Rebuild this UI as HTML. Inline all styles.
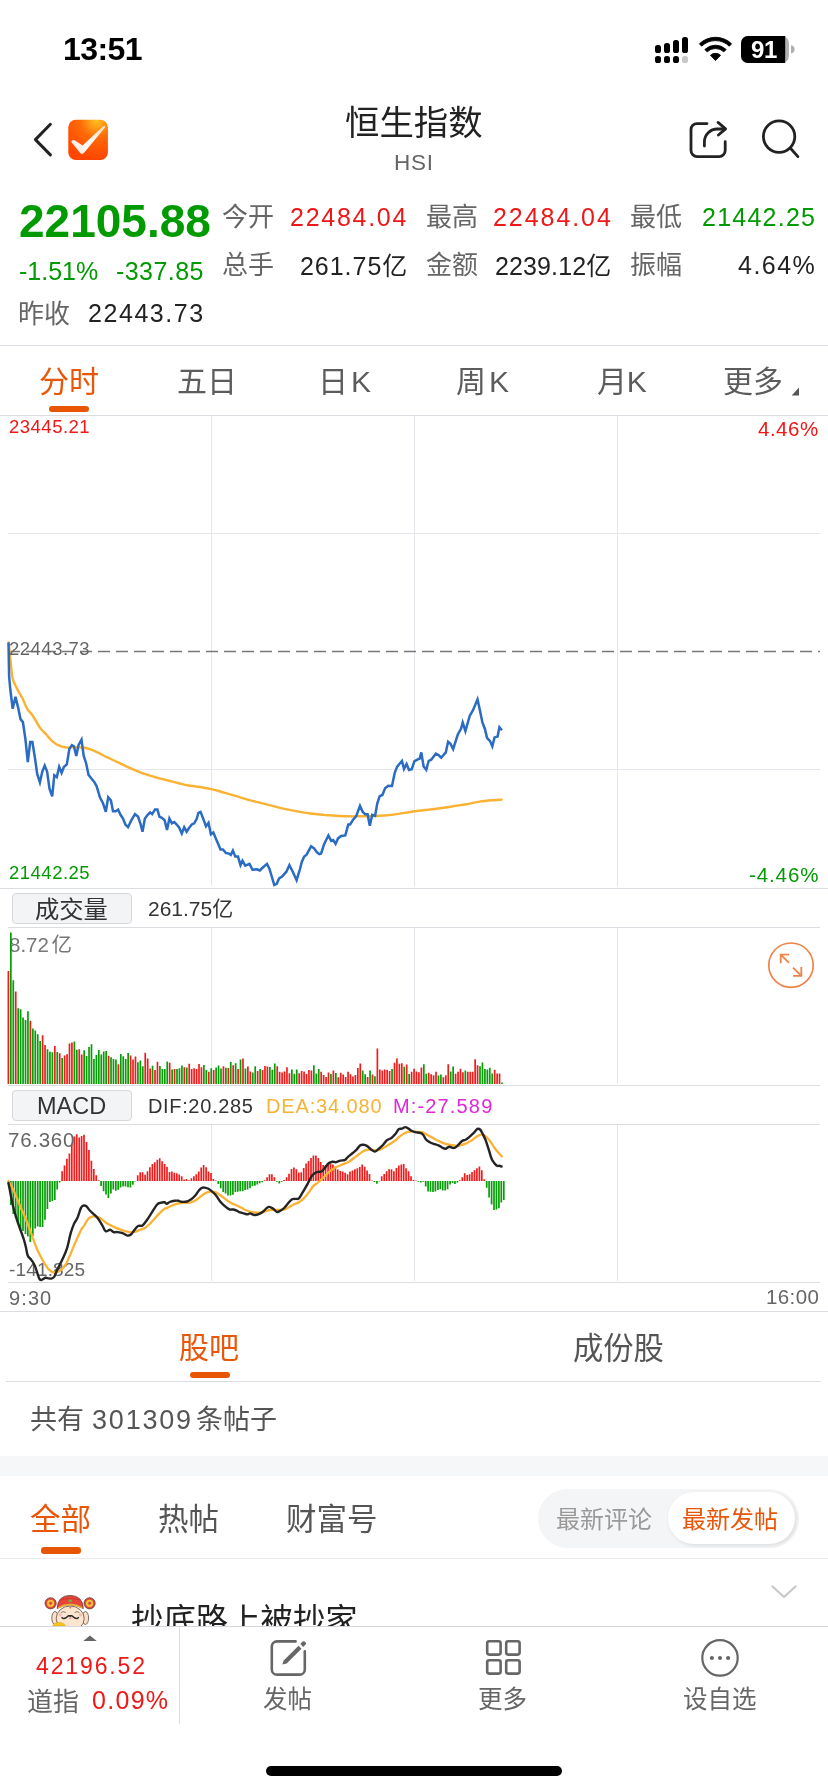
<!DOCTYPE html>
<html lang="zh-CN"><head><meta charset="utf-8"><title>恒生指数 HSI</title>
<style>
*{margin:0;padding:0;box-sizing:border-box}
html,body{width:828px;height:1792px;background:#fff;overflow:hidden}
body{font-family:"Liberation Sans","Noto Sans CJK SC",sans-serif;color:#222;position:relative}
.a{position:absolute;white-space:nowrap;line-height:1;will-change:transform}
.cj{font-family:"Noto Sans CJK SC","Liberation Sans",sans-serif}
.g{color:#019a01}.r{color:#ee1818}.k{color:#222}.gy{color:#666}
.hl{position:absolute;height:1px;background:#dcdde2}
</style></head><body>
<!-- status bar -->
<div class="a" id="time" style="left:62.6px;top:33.4px;font-size:32px;font-weight:bold;color:#000;letter-spacing:-0.6px">13:51</div>
<svg class="a" style="left:650px;top:30px" width="150" height="40" viewBox="650 30 150 40">
  <g fill="#000">
    <rect x="655" y="45" width="6" height="8" rx="2.6"/>
    <rect x="664" y="43" width="6" height="10" rx="2.6"/>
    <rect x="673" y="40" width="6" height="13" rx="2.6"/>
    <rect x="682" y="37" width="6" height="16" rx="2.6"/>
    <rect x="655" y="56" width="6" height="7" rx="2.6"/>
    <rect x="664" y="56" width="6" height="7" rx="2.6"/>
    <rect x="673" y="56" width="6" height="7" rx="2.6"/>
  </g>
  <rect x="682" y="56" width="6" height="7" rx="2.6" fill="#c8c8c8"/>
  <g fill="#000" stroke="#000" stroke-width="0.9" stroke-linejoin="round"><path d="M699.38 43.81 A23.2 23.2 0 0 1 731.62 43.81 L729.32 46.19 A19.9 19.9 0 0 0 701.68 46.19 Z"/><path d="M704.87 49.49 A15.3 15.3 0 0 1 726.13 49.49 L723.84 51.87 A12.0 12.0 0 0 0 707.16 51.87 Z"/><path d="M715.5 60.5 L710.50 55.32 A7.2 7.2 0 0 1 720.50 55.32 Z"/></g>
  <rect x="741" y="36" width="48" height="27" rx="7" fill="#b3b3b3"/>
  <path d="M748 36 H785.2 V63 H748 A7 7 0 0 1 741 56 V43 A7 7 0 0 1 748 36Z" fill="#000"/>
  <path d="M791 45.2 a4.2 4.2 0 0 1 0 8.3z" fill="#b0b0b0"/>
</svg>
<div class="a" id="batt" style="left:750.5px;top:37.6px;font-size:24px;font-weight:bold;color:#fff;letter-spacing:-0.3px">91</div>

<!-- nav header -->
<svg class="a" style="left:20px;top:110px" width="100" height="60" viewBox="20 110 100 60">
  <path d="M50.4 124.3 L35.4 139.6 L50.4 154.9" fill="none" stroke="#222" stroke-width="3" stroke-linecap="round" stroke-linejoin="round"/>
  <defs>
    <radialGradient id="lg" cx="0.72" cy="0.02" r="0.95">
      <stop offset="0" stop-color="#ffc21f"/>
      <stop offset="0.45" stop-color="#ff6a08"/>
      <stop offset="1" stop-color="#ff4600"/>
    </radialGradient>
    <linearGradient id="ck" x1="0" y1="1" x2="1" y2="0">
      <stop offset="0" stop-color="#f6e0d4"/>
      <stop offset="0.45" stop-color="#ffffff"/>
      <stop offset="1" stop-color="#ffd9b8"/>
    </linearGradient>
  </defs>
  <rect x="68.3" y="119.8" width="39.6" height="40.2" rx="7.5" fill="url(#lg)"/>
  <path d="M71.3 142 Q71.6 139.4 74.6 140.3 L82.6 145.5 L103.2 126.3 Q105.6 124.9 105 127.4 L84.3 152.6 Q82.2 155.2 80.2 153 Z" fill="url(#ck)"/>
</svg>
<div class="a cj" id="title" style="left:345px;top:103px;font-size:34.4px;color:#222">恒生指数</div>
<div class="a" id="hsi" style="left:394px;top:151.8px;font-size:22.5px;letter-spacing:0.75px;color:#666">HSI</div>
<svg class="a" style="left:680px;top:110px" width="130" height="60" viewBox="680 110 130 60">
  <g fill="none" stroke="#222" stroke-width="2.8" stroke-linecap="round" stroke-linejoin="round">
    <path d="M707 123.6 H697 A6 6 0 0 0 691 129.6 V150.6 A6 6 0 0 0 697 156.6 H719.2 A6 6 0 0 0 725.2 150.6 V141.6"/>
    <path d="M704.4 146 V142 A13 13 0 0 1 717.4 129 H724.8"/>
    <path d="M718 122.4 L725.6 128.9 L718.4 135"/>
    <circle cx="779.1" cy="136.6" r="15.7"/>
    <path d="M790.5 148.2 L797.9 156.6"/>
  </g>
</svg>

<!-- quote block -->
<div class="a g" id="price" style="left:19px;top:197.8px;font-size:46px;font-weight:bold;letter-spacing:0px">22105.88</div>
<div class="a g" id="pct" style="left:19px;top:259.2px;font-size:25px;letter-spacing:0px">-1.51%</div>
<div class="a g" id="chg" style="left:115.5px;top:259.2px;font-size:25px;letter-spacing:0.43px">-337.85</div>
<div class="a cj gy" id="l1" style="left:222px;top:202.4px;font-size:26px">今开</div>
<div class="a r" id="v1" style="right:420px;top:204.7px;font-size:25px;letter-spacing:1.73px">22484.04</div>
<div class="a cj gy" id="l2" style="left:426px;top:202.4px;font-size:26px">最高</div>
<div class="a r" id="v2" style="right:215.1px;top:204.7px;font-size:25px;letter-spacing:1.94px">22484.04</div>
<div class="a cj gy" id="l3" style="left:630px;top:202.4px;font-size:26px">最低</div>
<div class="a g" id="v3" style="right:11.7px;top:204.7px;font-size:25px;letter-spacing:1.24px">21442.25</div>
<div class="a cj gy" id="l4" style="left:222px;top:250.3px;font-size:26px">总手</div>
<div class="a k" id="v4" style="right:420px;top:252.2px;font-size:25px;letter-spacing:0.97px">261.75<span class="cj">亿</span></div>
<div class="a cj gy" id="l5" style="left:426px;top:250.3px;font-size:26px">金额</div>
<div class="a k" id="v5" style="right:217px;top:252.2px;font-size:25px;letter-spacing:0.12px">2239.12<span class="cj">亿</span></div>
<div class="a cj gy" id="l6" style="left:630px;top:250.3px;font-size:26px">振幅</div>
<div class="a k" id="v6" style="right:12.1px;top:252.5px;font-size:25px;letter-spacing:1.48px">4.64%</div>
<div class="a cj gy" id="l7" style="left:18px;top:298.7px;font-size:26px">昨收</div>
<div class="a k" id="v7" style="left:87.7px;top:300.7px;font-size:25px;letter-spacing:1.56px">22443.73</div>
<div class="hl" style="left:0;top:345px;width:828px"></div>

<!-- period tabs -->
<div class="a cj" id="tab1" style="left:39px;top:363.7px;font-size:30px;color:#e8560a">分时</div>
<div style="position:absolute;left:49px;top:406px;width:40px;height:6px;border-radius:3px;background:#e85505"></div>
<div class="a cj gy" id="tab2" style="left:177px;top:363.7px;font-size:30px;color:#5c5c5c">五日</div>
<div class="a cj gy" id="tab3" style="left:318px;top:363.7px;font-size:30px;color:#5c5c5c">日<span style="font-family:'Liberation Sans';margin-left:3px">K</span></div>
<div class="a cj gy" id="tab4" style="left:456px;top:363.7px;font-size:30px;color:#5c5c5c">周<span style="font-family:'Liberation Sans';margin-left:3px">K</span></div>
<div class="a cj gy" id="tab5" style="left:597px;top:363.7px;font-size:30px;color:#5c5c5c">月<span style="font-family:'Liberation Sans';margin-left:-0.3px">K</span></div>
<div class="a cj gy" id="tab6" style="left:723px;top:363.7px;font-size:30px;color:#5c5c5c">更多</div>
<svg class="a" style="left:790px;top:386px" width="10" height="10" viewBox="790 386 10 10"><path d="M799 387.5 V395.6 H791.7 Z" fill="#555"/></svg>
<div class="hl" style="left:0;top:415px;width:828px"></div>

<!-- charts -->
<svg class="a" style="left:0;top:415px" width="828" height="474" viewBox="0 415 828 474"><line x1="211.5" y1="416" x2="211.5" y2="886" stroke="#e4e6ec" stroke-width="1"/><line x1="414.5" y1="416" x2="414.5" y2="886" stroke="#e4e6ec" stroke-width="1"/><line x1="617.5" y1="416" x2="617.5" y2="886" stroke="#e4e6ec" stroke-width="1"/><line x1="8" y1="533.5" x2="820" y2="533.5" stroke="#e4e6ec" stroke-width="1"/><line x1="8" y1="769.5" x2="820" y2="769.5" stroke="#e4e6ec" stroke-width="1"/><line x1="8" y1="651.5" x2="820" y2="651.5" stroke="#777" stroke-width="1.3" stroke-dasharray="12 6"/><line x1="0" y1="888.5" x2="828" y2="888.5" stroke="#dcdde2" stroke-width="1"/><path d="M8.7 642.4 C9.1 646 10.2 658.2 10.9 664.2 C11.6 670.2 11.5 674.2 12.7 678.6 C13.9 683 16.4 687.3 18.1 690.7 C19.8 694.1 21.4 696.2 22.9 699.2 C24.4 702.2 25.6 706.1 27.2 708.8 C28.8 711.5 30.5 712.4 32.6 715.5 C34.7 718.6 37.6 724.4 39.9 727.6 C42.2 730.8 44.5 732.6 46.5 734.8 C48.5 737 50 739.1 51.9 740.8 C53.8 742.5 55.6 744 58 745.1 C60.4 746.2 63.6 747.1 66.4 747.5 C69.2 747.9 71.9 747.2 74.9 747.2 C77.9 747.2 81.7 747.2 84.5 747.7 C87.3 748.2 89.2 748.9 91.8 749.9 C94.4 750.9 97.4 752.4 100 753.6 C102.6 754.9 104.2 756 107.2 757.4 C110.2 758.8 114.5 760.6 118.1 762.3 C121.7 764 125 765.9 129 767.7 C133 769.5 138.1 771.6 142.3 773.1 C146.5 774.6 149.3 775.4 154.3 776.8 C159.3 778.2 167.1 780.2 172.5 781.6 C177.9 783 182.4 784.3 187 785.2 C191.6 786.1 195.8 786.3 200 787 C204.2 787.7 208.1 788.4 212.1 789.3 C216.1 790.2 220.2 791.5 224.2 792.6 C228.2 793.8 232.2 795 236.2 796.2 C240.2 797.4 244.3 798.8 248.3 799.9 C252.3 801 256.4 801.9 260.4 802.9 C264.4 803.9 268.5 804.9 272.5 805.9 C276.5 806.9 279.9 807.9 284.5 808.9 C289.1 809.9 295.4 811.1 300 811.9 C304.6 812.7 308.1 813.2 312.1 813.7 C316.1 814.2 320.2 814.5 324.2 814.9 C328.2 815.2 332.2 815.6 336.2 815.8 C340.2 816 344.3 816.2 348.3 816.3 C352.3 816.4 356.4 816.3 360.4 816.3 C364.4 816.3 368.5 816.2 372.5 816.1 C376.5 816 379.9 815.9 384.5 815.5 C389.1 815.1 395.2 814.3 400 813.6 C404.8 812.9 408.9 812.1 413.3 811.5 C417.7 810.9 422.2 810.4 426.6 809.9 C431 809.4 435.5 808.8 439.9 808.2 C444.3 807.6 448.7 806.9 453.1 806.2 C457.5 805.5 462 805 466.4 804.2 C470.8 803.4 475.3 802.3 479.7 801.6 C484.1 800.9 489.4 800.5 493 800.2 C496.6 799.9 500.2 799.7 501.6 799.6" fill="none" stroke="#fbb233" stroke-width="2.4" stroke-linecap="round"/><path d="M8.5 642.4 L9.1 676.2 L10.3 689.5 L12.7 708.8 L15.5 696.8 L18.1 707.6 L20.5 719.1 L22.9 722.1 L25.4 739 L27.8 762 L30.2 742 L32.4 742 L35 758.4 L37.2 774 L39.9 782.5 L42.3 771.6 L44.7 765.6 L47.1 771.6 L49.5 788.6 L52.2 796.4 L54.3 775.3 L56.8 777.1 L59.2 766.8 L61.6 772.8 L64 766.8 L66.8 764.4 L69.4 748.7 L71.9 745.1 L73.9 746.3 L76.3 755.9 L78.5 745.1 L81.5 739.6 L83.7 755.9 L86.1 763.2 L88.5 774.7 L91.2 778.3 L94.2 781.9 L96.6 786.1 L100 797.5 L103 803.3 L105.8 811.8 L108.2 797.3 L110.9 800.3 L113 811.2 L115.7 811.2 L118.1 809.6 L120.5 814.8 L122.9 818.4 L125.4 824.5 L128 827.2 L131.4 820.2 L135 814.2 L138 816.6 L140.5 823.9 L142.5 831.7 L144.9 818.4 L147.7 814.8 L150.1 812.4 L152.2 814.2 L155 809.4 L157.4 809.4 L159.4 816.6 L161.8 817.8 L164.6 820.2 L167 829.9 L169.4 818.4 L171.9 823.3 L174.3 822.1 L176.7 824.5 L179.1 827.5 L181.8 833.5 L184.2 827.2 L186.6 831.7 L189.4 827.5 L191.8 824.5 L194.2 823.3 L196.6 819 L198.4 813 L200.6 811.9 L203.4 819.2 L206 826.4 L208.5 822.8 L210.9 834.3 L213.3 832.5 L216.9 840.9 L220.5 849.4 L222.9 849.4 L226 853 L229 853.6 L230.8 854.8 L232.9 850.6 L235.3 856.6 L238 856.6 L240.5 865.1 L242.5 860.8 L245.3 865.7 L249.5 863.9 L252.5 869.7 L256.8 869.3 L259.8 870.5 L262.8 867.5 L267 863.9 L269.4 868.7 L274.3 885 L276.7 883.8 L279.1 878.4 L282.1 876.5 L286.4 871.7 L289.4 865.1 L293 872.3 L296.6 880.2 L300 869 L301.8 862 L304.2 856.5 L306.6 854.7 L311.1 846.3 L313.9 848.1 L316.9 852.3 L319.3 854.1 L321.1 853.5 L324.2 843.9 L328.4 835.4 L331.2 840.8 L333.2 840 L335.6 843.9 L338 838.4 L341.1 836 L345.3 835.4 L348.3 824.5 L350.1 824.5 L353.1 819.7 L356.2 816.1 L360 805.8 L362.8 811.9 L365.2 814.3 L367.6 814.3 L369.8 825.7 L372.2 814.9 L375.1 815.8 L377.3 803.4 L379.7 796.2 L382.4 795 L385.1 788.3 L388.2 785.7 L392 785.9 L394.8 772.6 L397.2 766.6 L400 763.3 L402 761 L404 769 L406.6 764 L409 770 L411.7 769.3 L414.3 761.3 L417.3 759.7 L419.7 758.6 L421.3 752.4 L423.6 766.4 L426.3 769.7 L428.6 761 L431.2 759.7 L435.9 753.7 L438.5 755.1 L441.2 757.7 L445.8 752.4 L448.1 741.8 L450.5 743.8 L453.1 749.1 L457.8 734.5 L461.1 728.5 L462.7 722.5 L465.4 731.1 L469.7 715.9 L473.1 709.9 L477.5 699.3 L479.7 709.2 L482.4 722.5 L485 729.2 L487 737.8 L490.1 741.1 L492.3 746.4 L494.6 737.4 L497.6 736.5 L499.4 727.2 L502 730.2" fill="none" stroke="#2a6bc4" stroke-width="2.5" stroke-linejoin="miter" stroke-miterlimit="4"/></svg>
<div class="a" id="volmax" style="left:8.6px;top:933.1px;font-size:20.5px;color:#777">8.72<span class="cj" style="margin-left:2.5px">亿</span></div>
<div class="a" id="mbot" style="left:8.5px;top:1259.6px;font-size:19px;letter-spacing:0.15px;color:#666">-141.825</div>
<svg class="a" style="left:0;top:889px" width="828" height="200" viewBox="0 889 828 200"><line x1="211.5" y1="928" x2="211.5" y2="1084" stroke="#e4e6ec" stroke-width="1"/><line x1="414.5" y1="928" x2="414.5" y2="1084" stroke="#e4e6ec" stroke-width="1"/><line x1="617.5" y1="928" x2="617.5" y2="1084" stroke="#e4e6ec" stroke-width="1"/><line x1="8" y1="927.5" x2="820" y2="927.5" stroke="#dcdde2" stroke-width="1"/><line x1="8" y1="1085.5" x2="820" y2="1085.5" stroke="#dcdde2" stroke-width="1"/><path d="M7.55 971.1h1.7V1084h-1.7zM14.88 991.4h1.7V1084h-1.7zM29.54 1020.8h1.7V1084h-1.7zM41.76 1035.3h1.7V1084h-1.7zM44.20 1045.0h1.7V1084h-1.7zM53.98 1045.9h1.7V1084h-1.7zM58.87 1053.2h1.7V1084h-1.7zM63.75 1055.6h1.7V1084h-1.7zM66.20 1054.2h1.7V1084h-1.7zM68.64 1043.5h1.7V1084h-1.7zM71.08 1042.6h1.7V1084h-1.7zM78.41 1049.3h1.7V1084h-1.7zM80.86 1054.6h1.7V1084h-1.7zM107.74 1055.8h1.7V1084h-1.7zM117.51 1064.3h1.7V1084h-1.7zM129.73 1055.6h1.7V1084h-1.7zM132.17 1059.4h1.7V1084h-1.7zM134.62 1056.5h1.7V1084h-1.7zM144.39 1052.7h1.7V1084h-1.7zM146.84 1058.5h1.7V1084h-1.7zM149.28 1068.6h1.7V1084h-1.7zM154.17 1070.0h1.7V1084h-1.7zM156.61 1061.8h1.7V1084h-1.7zM168.83 1062.7h1.7V1084h-1.7zM173.71 1068.9h1.7V1084h-1.7zM183.49 1067.2h1.7V1084h-1.7zM188.38 1063.8h1.7V1084h-1.7zM190.82 1069.1h1.7V1084h-1.7zM193.26 1068.2h1.7V1084h-1.7zM195.71 1069.1h1.7V1084h-1.7zM198.15 1064.0h1.7V1084h-1.7zM200.59 1067.2h1.7V1084h-1.7zM207.93 1071.7h1.7V1084h-1.7zM212.81 1070.1h1.7V1084h-1.7zM222.59 1066.2h1.7V1084h-1.7zM227.47 1068.0h1.7V1084h-1.7zM232.36 1065.3h1.7V1084h-1.7zM237.25 1069.1h1.7V1084h-1.7zM242.14 1058.5h1.7V1084h-1.7zM247.02 1066.5h1.7V1084h-1.7zM249.47 1071.4h1.7V1084h-1.7zM256.80 1071.1h1.7V1084h-1.7zM261.68 1070.1h1.7V1084h-1.7zM264.13 1065.9h1.7V1084h-1.7zM266.57 1066.5h1.7V1084h-1.7zM276.35 1066.2h1.7V1084h-1.7zM278.79 1071.7h1.7V1084h-1.7zM281.23 1072.5h1.7V1084h-1.7zM283.68 1071.4h1.7V1084h-1.7zM286.12 1067.2h1.7V1084h-1.7zM288.56 1073.3h1.7V1084h-1.7zM298.34 1073.3h1.7V1084h-1.7zM300.78 1071.1h1.7V1084h-1.7zM303.23 1071.5h1.7V1084h-1.7zM305.67 1074.0h1.7V1084h-1.7zM308.11 1070.1h1.7V1084h-1.7zM310.56 1070.4h1.7V1084h-1.7zM320.33 1071.7h1.7V1084h-1.7zM322.77 1074.9h1.7V1084h-1.7zM325.22 1076.9h1.7V1084h-1.7zM327.66 1072.5h1.7V1084h-1.7zM332.55 1070.4h1.7V1084h-1.7zM337.44 1077.3h1.7V1084h-1.7zM339.88 1072.7h1.7V1084h-1.7zM342.32 1074.6h1.7V1084h-1.7zM344.77 1077.1h1.7V1084h-1.7zM347.21 1071.7h1.7V1084h-1.7zM349.65 1074.3h1.7V1084h-1.7zM352.10 1076.4h1.7V1084h-1.7zM354.54 1074.9h1.7V1084h-1.7zM356.98 1067.9h1.7V1084h-1.7zM359.43 1063.6h1.7V1084h-1.7zM366.76 1076.9h1.7V1084h-1.7zM371.65 1074.6h1.7V1084h-1.7zM376.53 1048.6h1.7V1084h-1.7zM378.98 1069.6h1.7V1084h-1.7zM381.42 1070.4h1.7V1084h-1.7zM383.86 1069.4h1.7V1084h-1.7zM386.31 1069.8h1.7V1084h-1.7zM388.75 1071.1h1.7V1084h-1.7zM393.64 1062.7h1.7V1084h-1.7zM396.08 1058.5h1.7V1084h-1.7zM398.53 1063.8h1.7V1084h-1.7zM400.97 1063.3h1.7V1084h-1.7zM405.86 1064.6h1.7V1084h-1.7zM410.74 1071.7h1.7V1084h-1.7zM413.19 1068.8h1.7V1084h-1.7zM415.63 1071.4h1.7V1084h-1.7zM418.07 1072.3h1.7V1084h-1.7zM420.52 1067.5h1.7V1084h-1.7zM427.85 1072.7h1.7V1084h-1.7zM430.29 1074.3h1.7V1084h-1.7zM432.74 1075.2h1.7V1084h-1.7zM435.18 1071.7h1.7V1084h-1.7zM442.51 1077.3h1.7V1084h-1.7zM444.95 1075.2h1.7V1084h-1.7zM447.40 1064.3h1.7V1084h-1.7zM454.73 1073.7h1.7V1084h-1.7zM457.17 1071.7h1.7V1084h-1.7zM459.62 1068.8h1.7V1084h-1.7zM462.06 1072.3h1.7V1084h-1.7zM466.95 1071.7h1.7V1084h-1.7zM469.39 1071.7h1.7V1084h-1.7zM471.83 1071.8h1.7V1084h-1.7zM474.28 1059.3h1.7V1084h-1.7zM476.72 1065.3h1.7V1084h-1.7zM493.83 1069.7h1.7V1084h-1.7zM496.27 1073.4h1.7V1084h-1.7zM498.71 1073.4h1.7V1084h-1.7z" fill="#f01c1c"/><path d="M9.99 932.4h1.7V1084h-1.7zM12.44 980.2h1.7V1084h-1.7zM17.32 1008.3h1.7V1084h-1.7zM19.77 1009.2h1.7V1084h-1.7zM22.21 1017.4h1.7V1084h-1.7zM24.66 1019.9h1.7V1084h-1.7zM27.10 1011.2h1.7V1084h-1.7zM31.99 1028.6h1.7V1084h-1.7zM34.43 1030.5h1.7V1084h-1.7zM36.87 1034.3h1.7V1084h-1.7zM39.32 1041.1h1.7V1084h-1.7zM46.65 1049.3h1.7V1084h-1.7zM49.09 1051.7h1.7V1084h-1.7zM51.53 1052.2h1.7V1084h-1.7zM56.42 1051.9h1.7V1084h-1.7zM61.31 1058.0h1.7V1084h-1.7zM73.53 1041.6h1.7V1084h-1.7zM75.97 1049.8h1.7V1084h-1.7zM83.30 1050.3h1.7V1084h-1.7zM85.75 1056.1h1.7V1084h-1.7zM88.19 1046.9h1.7V1084h-1.7zM90.63 1044.3h1.7V1084h-1.7zM93.08 1058.9h1.7V1084h-1.7zM95.52 1055.1h1.7V1084h-1.7zM97.96 1050.0h1.7V1084h-1.7zM100.41 1054.6h1.7V1084h-1.7zM102.85 1051.4h1.7V1084h-1.7zM105.29 1051.0h1.7V1084h-1.7zM110.18 1057.2h1.7V1084h-1.7zM112.62 1058.9h1.7V1084h-1.7zM115.07 1059.4h1.7V1084h-1.7zM119.96 1054.1h1.7V1084h-1.7zM122.40 1056.2h1.7V1084h-1.7zM124.84 1058.9h1.7V1084h-1.7zM127.29 1052.9h1.7V1084h-1.7zM137.06 1062.3h1.7V1084h-1.7zM139.50 1060.4h1.7V1084h-1.7zM141.95 1066.2h1.7V1084h-1.7zM151.72 1065.7h1.7V1084h-1.7zM159.05 1065.9h1.7V1084h-1.7zM161.50 1069.1h1.7V1084h-1.7zM163.94 1069.1h1.7V1084h-1.7zM166.38 1061.4h1.7V1084h-1.7zM171.27 1069.6h1.7V1084h-1.7zM176.16 1068.9h1.7V1084h-1.7zM178.60 1068.2h1.7V1084h-1.7zM181.05 1065.6h1.7V1084h-1.7zM185.93 1067.5h1.7V1084h-1.7zM203.04 1065.0h1.7V1084h-1.7zM205.48 1070.1h1.7V1084h-1.7zM210.37 1068.2h1.7V1084h-1.7zM215.26 1067.5h1.7V1084h-1.7zM217.70 1065.6h1.7V1084h-1.7zM220.14 1068.5h1.7V1084h-1.7zM225.03 1067.7h1.7V1084h-1.7zM229.92 1061.9h1.7V1084h-1.7zM234.80 1063.3h1.7V1084h-1.7zM239.69 1059.5h1.7V1084h-1.7zM244.58 1068.5h1.7V1084h-1.7zM251.91 1072.5h1.7V1084h-1.7zM254.35 1066.2h1.7V1084h-1.7zM259.24 1069.1h1.7V1084h-1.7zM269.02 1066.9h1.7V1084h-1.7zM271.46 1069.8h1.7V1084h-1.7zM273.90 1063.6h1.7V1084h-1.7zM291.01 1069.4h1.7V1084h-1.7zM293.45 1073.7h1.7V1084h-1.7zM295.89 1069.4h1.7V1084h-1.7zM313.00 1065.3h1.7V1084h-1.7zM315.44 1073.5h1.7V1084h-1.7zM317.89 1069.1h1.7V1084h-1.7zM330.11 1074.0h1.7V1084h-1.7zM334.99 1073.0h1.7V1084h-1.7zM361.87 1070.6h1.7V1084h-1.7zM364.32 1074.3h1.7V1084h-1.7zM369.20 1070.4h1.7V1084h-1.7zM374.09 1076.2h1.7V1084h-1.7zM391.20 1069.1h1.7V1084h-1.7zM403.41 1066.7h1.7V1084h-1.7zM408.30 1074.0h1.7V1084h-1.7zM422.96 1064.3h1.7V1084h-1.7zM425.41 1073.7h1.7V1084h-1.7zM437.62 1075.6h1.7V1084h-1.7zM440.07 1074.4h1.7V1084h-1.7zM449.84 1071.5h1.7V1084h-1.7zM452.29 1066.5h1.7V1084h-1.7zM464.50 1070.4h1.7V1084h-1.7zM479.16 1066.2h1.7V1084h-1.7zM481.61 1062.5h1.7V1084h-1.7zM484.05 1069.1h1.7V1084h-1.7zM486.50 1069.4h1.7V1084h-1.7zM488.94 1067.7h1.7V1084h-1.7zM491.38 1073.6h1.7V1084h-1.7zM501.16 1082.4h1.7V1084h-1.7z" fill="#079d07"/><circle cx="791" cy="965.2" r="22.2" fill="none" stroke="#ef8447" stroke-width="1.7"/><g fill="none" stroke="#ef8447" stroke-width="1.8"><path d="M789 954.6 H780.7 V963.3 M780.7 954.6 L789 962.9"/><path d="M793 975.9 H801.3 V966.9 M801.3 975.9 L793 967.6"/></g></svg>
<svg class="a" style="left:0;top:1086px" width="828" height="226" viewBox="0 1086 828 226"><line x1="211.5" y1="1125" x2="211.5" y2="1281" stroke="#e4e6ec" stroke-width="1"/><line x1="414.5" y1="1125" x2="414.5" y2="1281" stroke="#e4e6ec" stroke-width="1"/><line x1="617.5" y1="1125" x2="617.5" y2="1281" stroke="#e4e6ec" stroke-width="1"/><line x1="8" y1="1124.5" x2="820" y2="1124.5" stroke="#dcdde2" stroke-width="1"/><line x1="8" y1="1282.5" x2="820" y2="1282.5" stroke="#dcdde2" stroke-width="1"/><path d="M61.25 1171.2h1.7V1181h-1.7zM63.65 1165.4h1.7V1181h-1.7zM66.05 1158.8h1.7V1181h-1.7zM68.55 1153.5h1.7V1181h-1.7zM70.95 1143.8h1.7V1181h-1.7zM73.45 1136.6h1.7V1181h-1.7zM75.85 1134.2h1.7V1181h-1.7zM78.35 1137.6h1.7V1181h-1.7zM80.75 1136.1h1.7V1181h-1.7zM83.15 1134.7h1.7V1181h-1.7zM85.65 1141.9h1.7V1181h-1.7zM88.05 1150.1h1.7V1181h-1.7zM90.55 1160.7h1.7V1181h-1.7zM92.95 1169.0h1.7V1181h-1.7zM95.35 1175.2h1.7V1181h-1.7zM97.85 1180.3h1.7V1181h-1.7zM136.85 1175.2h1.7V1181h-1.7zM139.35 1172.3h1.7V1181h-1.7zM141.75 1172.3h1.7V1181h-1.7zM144.25 1174.8h1.7V1181h-1.7zM146.65 1171.2h1.7V1181h-1.7zM149.05 1167.3h1.7V1181h-1.7zM151.55 1164.1h1.7V1181h-1.7zM153.95 1162.2h1.7V1181h-1.7zM156.45 1159.8h1.7V1181h-1.7zM158.85 1158.3h1.7V1181h-1.7zM161.25 1161.2h1.7V1181h-1.7zM163.75 1164.1h1.7V1181h-1.7zM166.15 1166.7h1.7V1181h-1.7zM168.65 1172.1h1.7V1181h-1.7zM171.05 1171.4h1.7V1181h-1.7zM173.45 1172.8h1.7V1181h-1.7zM175.95 1173.3h1.7V1181h-1.7zM178.35 1174.5h1.7V1181h-1.7zM180.85 1176.2h1.7V1181h-1.7zM183.25 1179.6h1.7V1181h-1.7zM185.65 1178.9h1.7V1181h-1.7zM188.15 1180.3h1.7V1181h-1.7zM190.55 1178.3h1.7V1181h-1.7zM193.05 1176.2h1.7V1181h-1.7zM195.45 1174.3h1.7V1181h-1.7zM197.85 1171.4h1.7V1181h-1.7zM200.35 1167.5h1.7V1181h-1.7zM202.75 1165.1h1.7V1181h-1.7zM205.25 1167.2h1.7V1181h-1.7zM207.65 1171.4h1.7V1181h-1.7zM210.15 1173.1h1.7V1181h-1.7zM212.55 1178.9h1.7V1181h-1.7zM214.95 1180.4h1.7V1181h-1.7zM263.75 1180.3h1.7V1181h-1.7zM266.25 1177.2h1.7V1181h-1.7zM268.65 1174.3h1.7V1181h-1.7zM271.05 1174.3h1.7V1181h-1.7zM273.55 1177.2h1.7V1181h-1.7zM283.25 1180.1h1.7V1181h-1.7zM285.75 1177.2h1.7V1181h-1.7zM288.15 1173.8h1.7V1181h-1.7zM290.65 1169.0h1.7V1181h-1.7zM293.05 1167.5h1.7V1181h-1.7zM295.45 1169.3h1.7V1181h-1.7zM297.95 1172.5h1.7V1181h-1.7zM300.35 1172.3h1.7V1181h-1.7zM302.85 1168.0h1.7V1181h-1.7zM305.25 1163.6h1.7V1181h-1.7zM307.65 1160.9h1.7V1181h-1.7zM310.15 1158.0h1.7V1181h-1.7zM312.55 1155.4h1.7V1181h-1.7zM315.05 1155.4h1.7V1181h-1.7zM317.45 1158.0h1.7V1181h-1.7zM319.85 1161.9h1.7V1181h-1.7zM322.35 1165.1h1.7V1181h-1.7zM324.75 1165.1h1.7V1181h-1.7zM327.25 1163.6h1.7V1181h-1.7zM329.65 1163.6h1.7V1181h-1.7zM332.05 1164.6h1.7V1181h-1.7zM334.55 1166.5h1.7V1181h-1.7zM336.95 1169.6h1.7V1181h-1.7zM339.45 1170.9h1.7V1181h-1.7zM341.85 1171.6h1.7V1181h-1.7zM344.25 1172.8h1.7V1181h-1.7zM346.75 1174.3h1.7V1181h-1.7zM349.15 1171.4h1.7V1181h-1.7zM351.65 1170.4h1.7V1181h-1.7zM354.05 1169.3h1.7V1181h-1.7zM356.45 1168.3h1.7V1181h-1.7zM358.95 1167.0h1.7V1181h-1.7zM361.35 1164.6h1.7V1181h-1.7zM363.85 1166.7h1.7V1181h-1.7zM366.25 1170.4h1.7V1181h-1.7zM368.65 1174.1h1.7V1181h-1.7zM371.15 1180.4h1.7V1181h-1.7zM380.85 1176.2h1.7V1181h-1.7zM383.35 1174.1h1.7V1181h-1.7zM385.75 1171.2h1.7V1181h-1.7zM388.25 1169.3h1.7V1181h-1.7zM390.65 1169.3h1.7V1181h-1.7zM393.05 1171.2h1.7V1181h-1.7zM395.55 1168.0h1.7V1181h-1.7zM397.95 1165.4h1.7V1181h-1.7zM400.45 1164.4h1.7V1181h-1.7zM402.85 1164.1h1.7V1181h-1.7zM405.25 1168.3h1.7V1181h-1.7zM407.75 1171.2h1.7V1181h-1.7zM410.15 1176.2h1.7V1181h-1.7zM412.65 1180.1h1.7V1181h-1.7zM415.05 1180.6h1.7V1181h-1.7zM458.95 1180.3h1.7V1181h-1.7zM461.45 1177.2h1.7V1181h-1.7zM463.85 1173.3h1.7V1181h-1.7zM466.35 1175.1h1.7V1181h-1.7zM468.75 1174.2h1.7V1181h-1.7zM471.15 1172.1h1.7V1181h-1.7zM473.65 1170.3h1.7V1181h-1.7zM476.05 1168.2h1.7V1181h-1.7zM478.55 1166.4h1.7V1181h-1.7zM480.95 1170.2h1.7V1181h-1.7zM483.35 1179.3h1.7V1181h-1.7z" fill="#f01c1c"/><path d="M9.95 1181h1.7V1205.0h-1.7zM12.45 1181h1.7V1214.0h-1.7zM14.85 1181h1.7V1218.0h-1.7zM17.25 1181h1.7V1224.0h-1.7zM19.75 1181h1.7V1230.0h-1.7zM22.15 1181h1.7V1231.0h-1.7zM24.65 1181h1.7V1234.0h-1.7zM27.05 1181h1.7V1236.5h-1.7zM29.45 1181h1.7V1242.0h-1.7zM31.95 1181h1.7V1236.0h-1.7zM34.35 1181h1.7V1228.5h-1.7zM36.85 1181h1.7V1226.5h-1.7zM39.25 1181h1.7V1227.0h-1.7zM41.75 1181h1.7V1227.0h-1.7zM44.15 1181h1.7V1219.7h-1.7zM46.55 1181h1.7V1209.0h-1.7zM49.05 1181h1.7V1202.0h-1.7zM51.45 1181h1.7V1201.0h-1.7zM53.95 1181h1.7V1200.0h-1.7zM56.35 1181h1.7V1189.5h-1.7zM58.75 1181h1.7V1182.5h-1.7zM100.25 1181h1.7V1185.9h-1.7zM102.75 1181h1.7V1191.2h-1.7zM105.15 1181h1.7V1194.6h-1.7zM107.55 1181h1.7V1198.0h-1.7zM110.05 1181h1.7V1193.6h-1.7zM112.45 1181h1.7V1189.5h-1.7zM114.95 1181h1.7V1190.7h-1.7zM117.35 1181h1.7V1189.7h-1.7zM119.75 1181h1.7V1187.6h-1.7zM122.25 1181h1.7V1186.6h-1.7zM124.65 1181h1.7V1186.4h-1.7zM127.15 1181h1.7V1187.3h-1.7zM129.55 1181h1.7V1187.6h-1.7zM132.05 1181h1.7V1184.7h-1.7zM134.45 1181h1.7V1181.6h-1.7zM217.45 1181h1.7V1184.1h-1.7zM219.85 1181h1.7V1188.3h-1.7zM222.35 1181h1.7V1192.1h-1.7zM224.75 1181h1.7V1193.6h-1.7zM227.15 1181h1.7V1195.5h-1.7zM229.65 1181h1.7V1195.5h-1.7zM232.05 1181h1.7V1194.8h-1.7zM234.55 1181h1.7V1192.1h-1.7zM236.95 1181h1.7V1191.7h-1.7zM239.35 1181h1.7V1191.2h-1.7zM241.85 1181h1.7V1191.2h-1.7zM244.25 1181h1.7V1189.9h-1.7zM246.65 1181h1.7V1189.5h-1.7zM249.15 1181h1.7V1188.3h-1.7zM251.55 1181h1.7V1185.9h-1.7zM254.05 1181h1.7V1185.7h-1.7zM256.45 1181h1.7V1184.4h-1.7zM258.85 1181h1.7V1183.2h-1.7zM261.35 1181h1.7V1182.2h-1.7zM275.95 1181h1.7V1181.8h-1.7zM278.45 1181h1.7V1183.5h-1.7zM280.85 1181h1.7V1181.8h-1.7zM373.55 1181h1.7V1182.0h-1.7zM376.05 1181h1.7V1183.7h-1.7zM378.45 1181h1.7V1181.6h-1.7zM417.45 1181h1.7V1181.8h-1.7zM419.95 1181h1.7V1182.4h-1.7zM422.35 1181h1.7V1181.8h-1.7zM424.85 1181h1.7V1186.6h-1.7zM427.25 1181h1.7V1191.5h-1.7zM429.65 1181h1.7V1191.7h-1.7zM432.15 1181h1.7V1192.1h-1.7zM434.55 1181h1.7V1191.5h-1.7zM437.05 1181h1.7V1189.9h-1.7zM439.45 1181h1.7V1189.3h-1.7zM441.85 1181h1.7V1190.5h-1.7zM444.35 1181h1.7V1190.5h-1.7zM446.75 1181h1.7V1189.3h-1.7zM449.25 1181h1.7V1184.4h-1.7zM451.65 1181h1.7V1183.0h-1.7zM454.05 1181h1.7V1184.1h-1.7zM456.55 1181h1.7V1182.5h-1.7zM485.85 1181h1.7V1187.8h-1.7zM488.25 1181h1.7V1197.5h-1.7zM490.75 1181h1.7V1204.4h-1.7zM493.15 1181h1.7V1210.1h-1.7zM495.55 1181h1.7V1209.5h-1.7zM498.05 1181h1.7V1208.3h-1.7zM500.45 1181h1.7V1202.6h-1.7zM502.95 1181h1.7V1199.9h-1.7z" fill="#079d07"/><path d="M8.4 1181 C9.3 1182.6 11.7 1186.4 13.7 1190.7 C15.7 1195 18.6 1202.6 20.5 1207.1 C22.4 1211.6 23.5 1213.4 25.3 1217.8 C27.1 1222.2 29.2 1228 31.1 1233.2 C33 1238.4 35 1244.2 36.9 1248.7 C38.8 1253.2 40.9 1257.1 42.7 1260.3 C44.5 1263.5 46 1266.1 47.5 1268 C49 1269.9 50.4 1271.2 51.9 1271.9 C53.4 1272.6 54.7 1272.6 56.2 1272.3 C57.7 1272 59.5 1271.3 61.1 1269.9 C62.7 1268.5 64.3 1266.8 65.9 1264.1 C67.5 1261.4 69.1 1257.2 70.7 1253.5 C72.3 1249.8 73.8 1245.9 75.6 1241.9 C77.4 1237.9 80 1232 81.4 1229.3 C82.8 1226.6 82.9 1227.7 84 1226 C85.1 1224.3 86.6 1220.7 87.9 1219.2 C89.2 1217.7 90.4 1217.3 91.7 1216.8 C93 1216.3 94.1 1216.1 95.6 1216.3 C97 1216.5 98.5 1217 100.4 1218.2 C102.3 1219.4 104.8 1222.1 107.2 1223.6 C109.6 1225.1 112.3 1226.3 114.9 1227.4 C117.5 1228.5 120 1229.5 122.6 1230.3 C125.2 1231.1 128.3 1232 130.4 1232.2 C132.5 1232.5 133.6 1232.2 135.2 1231.8 C136.8 1231.4 138.4 1230.4 140 1229.8 C141.6 1229.2 143.3 1228.9 144.9 1227.9 C146.5 1226.9 148.1 1225.5 149.7 1224 C151.3 1222.5 152.9 1220.5 154.5 1218.7 C156.1 1216.9 157.8 1215 159.4 1213.4 C161 1211.8 162.8 1210 164 1209.1 C165.2 1208.2 165.5 1208.7 166.8 1208.1 C168.1 1207.5 169.9 1206.4 171.7 1205.7 C173.5 1205 175.6 1204.2 177.5 1203.7 C179.4 1203.2 181.4 1203 183.3 1202.8 C185.2 1202.6 187.2 1203.1 189.1 1202.8 C191 1202.5 193 1201.8 194.9 1200.8 C196.8 1199.8 198.8 1197.8 200.6 1196.5 C202.4 1195.2 203.9 1193.9 205.5 1193.1 C207.1 1192.3 208.7 1191.9 210.3 1191.7 C211.9 1191.5 213.5 1191.5 215.1 1192.1 C216.7 1192.6 218.2 1193.8 220 1195 C221.8 1196.2 223.9 1198 225.8 1199.4 C227.7 1200.8 229.7 1202.2 231.6 1203.3 C233.5 1204.3 235.7 1204.9 237.4 1205.7 C239.1 1206.5 240.8 1207.4 242 1208.1 C243.2 1208.8 243.5 1209.2 244.8 1209.8 C246.1 1210.4 248.1 1211.1 249.7 1211.5 C251.3 1211.9 252.7 1212.2 254.5 1212.4 C256.3 1212.6 258.5 1212.9 260.3 1212.7 C262.1 1212.5 263.5 1212 265.1 1211.5 C266.7 1211 268.4 1210.3 270 1210 C271.6 1209.7 273.2 1209.8 274.8 1209.8 C276.4 1209.8 278 1210 279.6 1210 C281.2 1210 282.8 1210 284.4 1209.5 C286 1209 287.7 1208 289.3 1207.1 C290.9 1206.2 292.5 1205 294.1 1204.2 C295.7 1203.4 297.3 1203.3 298.9 1202.3 C300.5 1201.3 302.2 1200 303.8 1198.4 C305.4 1196.8 307 1194.7 308.6 1192.6 C310.2 1190.5 311.8 1187.6 313.4 1185.9 C315 1184.2 316.3 1184 318 1182.5 C319.7 1181 321.9 1179 323.8 1177.2 C325.7 1175.4 327.7 1173 329.6 1171.4 C331.5 1169.8 333.3 1168.6 335.4 1167.5 C337.5 1166.4 340.1 1165.5 342.2 1164.6 C344.3 1163.7 346.1 1163.2 348 1162.2 C349.9 1161.2 351.8 1159.7 353.7 1158.3 C355.6 1156.9 357.7 1155.1 359.5 1153.8 C361.3 1152.5 362.8 1151.3 364.4 1150.6 C366 1149.9 367.6 1149.6 369.2 1149.6 C370.8 1149.5 372.4 1150.2 374 1150.3 C375.6 1150.3 377.3 1150.3 378.9 1149.9 C380.5 1149.5 381.9 1148.6 383.7 1147.7 C385.5 1146.8 387.6 1145.5 389.5 1144.3 C391.4 1143.1 393.9 1141.5 395.3 1140.5 C396.7 1139.5 397.1 1138.8 398 1138 C398.9 1137.2 399.4 1136.6 400.8 1135.6 C402.2 1134.6 404.8 1132.9 406.6 1132.2 C408.4 1131.5 409.9 1131.7 411.5 1131.6 C413.1 1131.5 414.6 1131.7 416.3 1131.8 C418 1131.9 419.8 1131.7 421.6 1132.2 C423.4 1132.7 424.7 1133.6 426.9 1134.7 C429.1 1135.8 432.4 1137.8 434.6 1139 C436.9 1140.2 438.5 1141.1 440.4 1141.9 C442.3 1142.8 444.3 1143.6 446.2 1144.1 C448.1 1144.6 450.2 1144.8 452 1145.1 C453.8 1145.4 455.2 1145.8 456.9 1145.8 C458.6 1145.8 460.4 1145.4 462 1144.9 C463.6 1144.5 465.2 1143.8 466.8 1143.1 C468.4 1142.3 470.1 1141.5 471.7 1140.4 C473.3 1139.4 474.9 1137.8 476.5 1136.8 C478.1 1135.8 480 1134.8 481.3 1134.5 C482.6 1134.2 483.3 1134.7 484.3 1135.3 C485.3 1135.9 486.3 1136.8 487.4 1138 C488.5 1139.2 489.8 1140.8 491 1142.5 C492.2 1144.2 493.4 1146.3 494.6 1148 C495.8 1149.7 497 1151.1 498.2 1152.5 C499.4 1153.9 501.3 1155.8 501.9 1156.4" fill="none" stroke="#fbb233" stroke-width="2.3" stroke-linecap="round"/><path d="M8.4 1183 C8.7 1184.6 9.6 1188.9 10.3 1192.6 C11 1196.3 11.9 1201.3 12.8 1205.2 C13.7 1209.1 14.6 1212.1 15.7 1215.8 C16.8 1219.5 18.2 1223.7 19.5 1227.4 C20.8 1231.1 22.3 1234.8 23.4 1238 C24.4 1241.2 25.1 1243.8 25.8 1246.7 C26.5 1249.6 26.7 1253.1 27.7 1255.4 C28.7 1257.7 30.4 1258.5 31.6 1260.3 C32.8 1262.1 33.7 1263 35 1266.1 C36.3 1269.1 38.1 1276.3 39.3 1278.6 C40.5 1280.8 41.2 1279.8 42.2 1279.6 C43.2 1279.4 44.7 1278 45.6 1277.7 C46.5 1277.5 46.5 1277.9 47.5 1278.1 C48.5 1278.2 50.3 1278.8 51.4 1278.6 C52.5 1278.4 53.3 1278.2 54.3 1276.7 C55.3 1275.2 55.9 1272.6 57.2 1269.9 C58.5 1267.2 60.4 1263.8 62 1260.3 C63.6 1256.8 65.5 1253.2 66.9 1248.7 C68.4 1244.2 69.5 1237.4 70.7 1233.2 C71.9 1229 73 1226.2 74.1 1223.6 C75.2 1221 76.4 1220.4 77.5 1217.8 C78.6 1215.2 79.9 1210.1 80.9 1208.1 C81.9 1206.1 82.4 1206 83.3 1205.7 C84.2 1205.4 85.3 1205.4 86.4 1206.2 C87.5 1207 88.4 1209 89.8 1210.5 C91.2 1212 93.1 1213.5 94.6 1214.9 C96 1216.4 97.2 1217.4 98.5 1219.2 C99.8 1221 101.2 1223.5 102.4 1225.5 C103.6 1227.5 104.4 1230.6 105.7 1231.3 C107 1232 108.8 1229.7 110.1 1229.8 C111.4 1229.9 112.2 1231.7 113.5 1232.1 C114.8 1232.5 116.3 1231.9 117.8 1232.1 C119.3 1232.3 121 1232.6 122.6 1233.2 C124.2 1233.8 126 1235.4 127.5 1235.6 C128.9 1235.8 130.2 1235.1 131.3 1234.2 C132.4 1233.3 133.1 1231.7 134.2 1230.3 C135.3 1228.9 136.7 1226.8 138.1 1226 C139.5 1225.2 141.1 1226.5 142.5 1225.5 C143.9 1224.5 145.3 1222.3 146.8 1220.2 C148.3 1218.1 149.9 1215.5 151.6 1212.9 C153.3 1210.3 155.4 1206.4 156.9 1204.7 C158.4 1203 159.1 1203.2 160.3 1202.8 C161.6 1202.4 163.3 1202.1 164.4 1202.3 C165.5 1202.5 165.9 1203.8 166.8 1203.7 C167.7 1203.7 168.4 1202.5 169.7 1202 C171 1201.5 173.1 1201 174.6 1200.8 C176.1 1200.6 177.3 1200.6 178.4 1200.8 C179.5 1201 179.9 1201.7 181.3 1201.8 C182.8 1201.9 185.5 1201.9 187.1 1201.5 C188.7 1201.1 189.6 1200.4 191 1199.4 C192.4 1198.4 194 1197 195.3 1195.5 C196.6 1194 197.6 1192 198.7 1190.7 C199.8 1189.5 200.6 1188.5 201.6 1188 C202.6 1187.5 203.4 1187.5 204.5 1187.6 C205.6 1187.7 207.1 1188.1 208.4 1188.8 C209.7 1189.5 210.9 1190.6 212.2 1191.7 C213.5 1192.8 214.8 1193.9 216.1 1195.5 C217.4 1197.1 218.6 1199.5 220 1201.3 C221.4 1203.1 223.2 1204.8 224.8 1206.2 C226.4 1207.6 228.2 1209 229.6 1209.5 C231 1210 232.2 1209.2 233.5 1209.5 C234.8 1209.8 236.3 1210.5 237.4 1211 C238.5 1211.5 238.9 1212 240 1212.4 C241.1 1212.8 242.7 1213.1 243.9 1213.4 C245.1 1213.7 246.2 1214.4 247.2 1214.4 C248.2 1214.4 248.9 1213.3 250.1 1213.4 C251.3 1213.5 253 1214.9 254.5 1215 C256 1215.1 257.9 1214.5 259.3 1213.9 C260.8 1213.3 262 1212.5 263.2 1211.5 C264.4 1210.5 265.6 1208.9 266.6 1208.1 C267.7 1207.3 268.4 1206.8 269.5 1206.9 C270.6 1207 271.6 1207.8 272.9 1208.6 C274.2 1209.4 275.9 1211.7 277.2 1212 C278.5 1212.3 279.5 1211.2 280.6 1210.5 C281.7 1209.8 282.9 1209.1 284 1208.1 C285.1 1207 286 1205.7 287.3 1204.2 C288.6 1202.8 290.3 1200.3 291.7 1199.4 C293.1 1198.5 294.4 1199.1 295.6 1198.9 C296.8 1198.7 297.7 1199.5 298.9 1198.4 C300.1 1197.3 301.4 1194.5 302.8 1192.1 C304.2 1189.7 306.2 1186.6 307.6 1183.9 C309.1 1181.2 310.2 1178.1 311.5 1176.2 C312.8 1174.3 314.3 1173.5 315.4 1172.8 C316.5 1172.1 316.9 1172.2 318 1171.9 C319.1 1171.6 320.8 1171.9 321.9 1171.2 C323 1170.5 323.7 1169.3 324.8 1168 C325.9 1166.7 327.3 1164.2 328.6 1163.2 C329.9 1162.2 331.3 1161.9 332.5 1161.7 C333.7 1161.5 334.6 1162.4 335.9 1162.2 C337.2 1162 338.7 1161.1 340.2 1160.7 C341.7 1160.3 343.8 1160.4 345.1 1159.8 C346.4 1159.2 346.7 1158 348 1156.9 C349.3 1155.8 351.4 1154.2 352.8 1153 C354.2 1151.8 355.4 1150.8 356.6 1149.6 C357.8 1148.3 358.9 1146.3 360 1145.5 C361.1 1144.7 362.2 1144.7 363.4 1144.8 C364.6 1144.9 366.1 1145.4 367.3 1146.1 C368.5 1146.8 369.4 1148.3 370.7 1149.2 C372 1150.1 373.6 1151.7 375 1151.6 C376.4 1151.5 377.6 1149.8 378.9 1148.7 C380.2 1147.7 381.4 1146.7 382.7 1145.3 C384 1143.9 385.2 1141.7 386.6 1140.5 C388.1 1139.3 390.1 1138.9 391.4 1138 C392.7 1137.1 393.5 1135.9 394.3 1135.1 C395.1 1134.3 395.2 1134.2 396 1133.2 C396.8 1132.2 397.9 1129.8 398.9 1129.1 C399.9 1128.3 400.8 1129 401.8 1128.7 C402.9 1128.4 404.1 1127.1 405.2 1127.1 C406.2 1127 407.1 1127.8 408.1 1128.4 C409.2 1129 410.3 1130.2 411.5 1130.8 C412.7 1131.4 413.9 1131.8 415.3 1132.2 C416.8 1132.6 418.9 1132.5 420.2 1132.9 C421.5 1133.3 422.1 1133.6 423.1 1134.7 C424.1 1135.8 424.9 1138.2 426 1139.5 C427.1 1140.8 428.4 1141.4 429.8 1142.2 C431.2 1143 433.2 1143.6 434.6 1144.1 C436.1 1144.6 437.2 1144.7 438.5 1145.3 C439.8 1145.9 441.2 1147.1 442.4 1147.7 C443.6 1148.3 444.7 1148.9 445.8 1148.7 C446.9 1148.5 447.8 1146.8 449.1 1146.7 C450.4 1146.6 452.2 1148 453.5 1148 C454.8 1148 455.5 1147.6 456.9 1146.4 C458.3 1145.2 460.6 1142.1 462 1141 C463.4 1139.9 464.4 1140.5 465.6 1139.8 C466.8 1139.1 467.9 1138.2 469.2 1137.1 C470.5 1136 472.1 1134.6 473.5 1133.2 C474.9 1131.8 476.3 1129.5 477.4 1128.9 C478.5 1128.3 479.2 1128.7 480.1 1129.5 C481 1130.3 481.6 1131.7 482.5 1133.5 C483.4 1135.3 484.6 1137.5 485.6 1140.1 C486.6 1142.7 487.6 1146.1 488.6 1149.2 C489.6 1152.3 490.7 1156.5 491.6 1158.8 C492.5 1161 493.1 1161.5 494 1162.7 C494.9 1163.9 496.1 1165.3 497 1165.8 C497.9 1166.3 498.6 1165.7 499.4 1165.8 C500.2 1165.9 501.2 1166.4 501.6 1166.5" fill="none" stroke="#242424" stroke-width="2.4" stroke-linecap="round"/></svg>

<!-- chart labels -->
<div class="a r" id="yt" style="left:9px;top:418px;font-size:18.5px;letter-spacing:0.5px">23445.21</div>
<div class="a r" id="yt2" style="right:9px;top:419px;font-size:20.5px;letter-spacing:0.5px">4.46%</div>
<div class="a" id="ym" style="left:9px;top:640.4px;font-size:18.5px;letter-spacing:0.5px;color:#666">22443.73</div>
<div class="a g" id="yb" style="left:9px;top:863.8px;font-size:18.5px;letter-spacing:0.5px">21442.25</div>
<div class="a g" id="yb2" style="right:9px;top:865.3px;font-size:20.5px;letter-spacing:0.9px">-4.46%</div>

<div class="a cj" id="btnvol" style="left:12px;top:892.5px;width:119.5px;height:31px;border:1px solid #d6d7db;border-radius:4px;background:#f3f4f6"></div>
<div class="a cj" id="vollbl" style="left:35px;top:896.4px;font-size:24.3px;color:#333">成交量</div>
<div class="a" id="volv" style="left:148px;top:896.8px;font-size:21px;color:#333">261.75<span class="cj">亿</span></div>

<div class="a" id="btnmacd" style="left:12px;top:1089.5px;width:119.5px;height:31px;border:1px solid #d6d7db;border-radius:4px;background:#f3f4f6"></div>
<div class="a" id="macdlbl" style="left:37px;top:1094.6px;font-size:23.5px;color:#333">MACD</div>
<div class="a" id="dif" style="left:148px;top:1096.1px;font-size:20px;letter-spacing:0.65px;color:#333">DIF:20.285</div>
<div class="a" id="dea" style="left:265.5px;top:1096.1px;font-size:20px;letter-spacing:0.85px;color:#f5b335">DEA:34.080</div>
<div class="a" id="mv" style="left:393px;top:1096.1px;font-size:20px;letter-spacing:1.15px;color:#e026d8">M:-27.589</div>
<div class="a" id="mtop" style="left:8px;top:1130px;font-size:20.5px;letter-spacing:0.74px;color:#666">76.360</div>
<div class="a" id="t930" style="left:8.5px;top:1287.5px;font-size:20px;letter-spacing:1.1px;color:#666">9:30</div>
<div class="a" id="t1600" style="right:8.9px;top:1286.9px;font-size:20.5px;letter-spacing:0.4px;color:#666">16:00</div>
<div class="hl" style="left:0;top:1311px;width:828px"></div>

<!-- guba tabs -->
<div class="a cj" id="guba" style="left:179px;top:1329.6px;font-size:30px;color:#e8560a">股吧</div>
<div style="position:absolute;left:190px;top:1372px;width:40px;height:6px;border-radius:3px;background:#e85505"></div>
<div class="a cj" id="cfg" style="left:572.5px;top:1331.3px;font-size:30.3px;color:#555">成份股</div>
<div class="hl" style="left:6px;top:1381px;width:815px"></div>
<div class="a cj" id="count" style="left:30px;top:1404px;font-size:27px;color:#555">共有<span style="font-family:'Liberation Sans';letter-spacing:1.8px;margin:0 3px 0 8px">301309</span>条帖子</div>
<div style="position:absolute;left:0;top:1456px;width:828px;height:20px;background:#f6f7f9"></div>

<!-- post tabs -->
<div class="a cj" id="all" style="left:30px;top:1502px;font-size:30.5px;color:#e8560a">全部</div>
<div style="position:absolute;left:41px;top:1547px;width:40px;height:6.5px;border-radius:3.2px;background:#e85505"></div>
<div class="a cj" id="hot" style="left:158px;top:1502px;font-size:30.5px;color:#555">热帖</div>
<div class="a cj" id="cfh" style="left:285.5px;top:1502px;font-size:30.5px;color:#555">财富号</div>
<div style="position:absolute;left:538px;top:1489px;width:261px;height:59px;border-radius:29.5px;background:#f4f5f7"></div>
<div style="position:absolute;left:667.5px;top:1491.5px;width:127px;height:52.5px;border-radius:26.25px;background:#fff;box-shadow:1.5px 1.5px 4px rgba(0,0,0,0.1)"></div>
<div class="a cj" id="seg1" style="left:556px;top:1505.8px;font-size:24px;color:#999">最新评论</div>
<div class="a cj" id="seg2" style="left:682px;top:1505.8px;font-size:24px;color:#e8560a">最新发帖</div>
<div class="hl" style="left:0;top:1558px;width:828px;background:#ebebee"></div>

<!-- post row -->
<svg class="a" style="left:770px;top:1583px" width="28" height="20" viewBox="770 1583 28 20"><path d="M772.5 1586.5 L784 1597 L795.5 1586.5" fill="none" stroke="#c8c8c8" stroke-width="2.2" stroke-linecap="round" stroke-linejoin="round"/></svg>
<svg class="a" style="left:40px;top:1588px" width="70" height="38" viewBox="40 1588 70 38">
  <g stroke="#4a3530" stroke-width="0.7">
    <ellipse cx="55" cy="1618" rx="3.2" ry="6.5" fill="#fbe0c8"/>
    <ellipse cx="85.4" cy="1618" rx="3.2" ry="6.5" fill="#fbe0c8"/>
    <ellipse cx="70.2" cy="1618.5" rx="14" ry="12.5" fill="#fde5d0"/>
    <path d="M57.2 1608.5 Q57.5 1595.6 70.1 1595.4 Q82.8 1595.6 83.3 1608.5 Q76 1604.8 70.1 1605 Q64.2 1604.8 57.2 1608.5Z" fill="#e8453a"/>
    <circle cx="50.6" cy="1603.3" r="5.6" fill="#e24a3a"/>
    <circle cx="89.6" cy="1603.3" r="5.6" fill="#e24a3a"/>
  </g>
  <path d="M58 1607.2 Q64 1603.6 70.1 1603.8 Q76.3 1603.6 82.5 1607.2 L82.3 1608.6 Q76 1605.3 70.1 1605.4 Q64.2 1605.3 58.2 1608.6Z" fill="#e9b43a"/>
  <path d="M60 1600.2 Q70 1596.8 80.5 1600.2" fill="none" stroke="#c9302a" stroke-width="0.8"/>
  <rect x="68.6" y="1599.6" width="3.2" height="2.4" fill="#5fb844"/>
  <circle cx="50.6" cy="1603.3" r="3.6" fill="#f3c13c"/>
  <circle cx="89.6" cy="1603.3" r="3.6" fill="#f3c13c"/>
  <path d="M50.6 1601.3 L52.6 1603.3 L50.6 1605.3 L48.6 1603.3Z M89.6 1601.3 L91.6 1603.3 L89.6 1605.3 L87.6 1603.3Z" fill="#e24a3a"/>
  <circle cx="70.3" cy="1607.7" r="0.8" fill="#e8403a"/>
  <g fill="none" stroke="#555" stroke-width="0.7" stroke-linecap="round">
    <path d="M61.2 1612.3 Q63.3 1610.8 65.4 1612.3"/>
    <path d="M74.9 1612.3 Q77 1610.8 79.1 1612.3"/>
  </g>
  <circle cx="60.2" cy="1614.8" r="1.6" fill="#f7b8b8"/>
  <circle cx="80.4" cy="1614.8" r="1.6" fill="#f7b8b8"/>
  <path d="M62 1617.6 Q63.5 1619.6 66.5 1617.4 Q69 1614.8 70.2 1616.2 Q71.4 1614.8 73.9 1617.4 Q76.9 1619.6 78.4 1617.6" fill="none" stroke="#2a2a2a" stroke-width="1.5" stroke-linecap="round"/>
  <path d="M68.4 1617.8 Q70.2 1619.8 72 1617.8Z" fill="#e06060"/>
  <path d="M52.5 1626 Q54 1622.6 58.5 1622.4 Q63.8 1622.2 65.5 1626Z" fill="#f5c518" stroke="#d9a010" stroke-width="0.5"/>
</svg>
<div class="a cj" id="ptitle" style="left:131px;top:1602.4px;font-size:32.4px;color:#222">抄底路上被抄家</div>

<!-- bottom bar -->
<div style="position:absolute;left:0;top:1626px;width:828px;height:166px;background:#fff;border-top:1px solid #d5d6de"></div>
<svg class="a" style="left:80px;top:1632px" width="20" height="12" viewBox="80 1632 20 12"><path d="M83.3 1641 L90 1635.4 L96.7 1641 Z" fill="#666"/></svg>
<div class="a r" id="djv" style="left:36px;top:1655px;font-size:23px;letter-spacing:1.87px">42196.52</div>
<div class="a cj gy" id="djl" style="left:27px;top:1686.9px;font-size:26px">道指</div>
<div class="a r" id="djp" style="left:92px;top:1687.9px;font-size:25px;letter-spacing:1.3px">0.09%</div>
<div style="position:absolute;left:179px;top:1627px;width:1px;height:97px;background:#dcdde2"></div>
<svg class="a" style="left:260px;top:1630px" width="560" height="60" viewBox="260 1630 560 60">
  <g fill="none" stroke="#666" stroke-width="2.6" stroke-linecap="round" stroke-linejoin="round">
    <path d="M295.6 1641.4 H277 A5.2 5.2 0 0 0 271.8 1646.6 V1669.4 A5.2 5.2 0 0 0 277 1674.6 H299.6 A5.2 5.2 0 0 0 304.8 1669.4 V1651.4"/>
    <rect x="487.2" y="1641.2" width="13.4" height="13.4" rx="2"/>
    <rect x="506.2" y="1641.2" width="13.4" height="13.4" rx="2"/>
    <rect x="487.2" y="1660.2" width="13.4" height="13.4" rx="2"/>
    <rect x="506.2" y="1660.2" width="13.4" height="13.4" rx="2"/>
  </g>
  <path d="M283.7 1660.5 L298.5 1645.7 L301.5 1648.7 L286.7 1663.5 L282.2 1664.6 Z" fill="#666"/>
  <path d="M300.3 1643.9 L302.6 1641.6 Q303.6 1640.7 304.6 1641.6 L305.6 1642.6 Q306.5 1643.6 305.6 1644.6 L303.3 1646.9 Z" fill="#666"/>
  <circle cx="720" cy="1657.9" r="17.7" fill="none" stroke="#666" stroke-width="2.2"/>
  <g fill="#666"><circle cx="711.9" cy="1658" r="2.1"/><circle cx="720" cy="1658" r="2.1"/><circle cx="728.1" cy="1658" r="2.1"/></g>
</svg>
<div class="a cj gy" id="nav1" style="left:263px;top:1686px;font-size:24.5px">发帖</div>
<div class="a cj gy" id="nav2" style="left:478px;top:1686px;font-size:24.5px">更多</div>
<div class="a cj gy" id="nav3" style="left:683px;top:1686px;font-size:24.5px">设自选</div>
<div style="position:absolute;left:266px;top:1766px;width:296px;height:10px;border-radius:5px;background:#000"></div>
</body></html>
